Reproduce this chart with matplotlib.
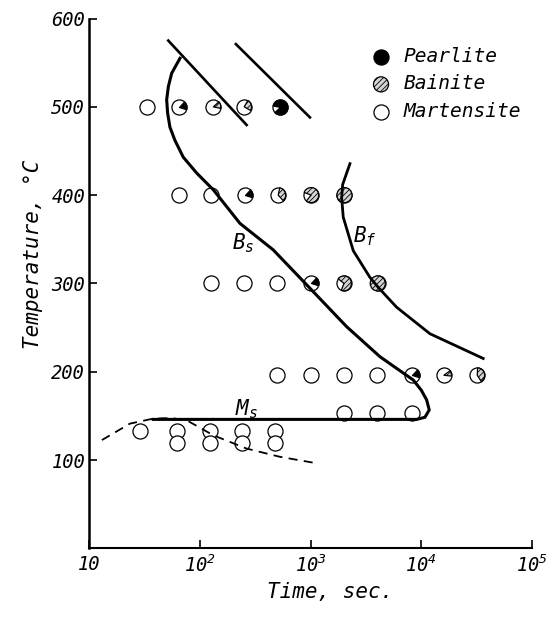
import numpy as np
import matplotlib
matplotlib.use('Agg')
import matplotlib.pyplot as plt
from matplotlib.path import Path
from matplotlib.ticker import FixedLocator, FixedFormatter, NullLocator

FONT = 'DejaVu Sans Mono'
plt.rcParams['font.family'] = [FONT, 'DejaVu Sans']
plt.rcParams['font.style'] = 'italic'
plt.rcParams['mathtext.fontset'] = 'custom'
plt.rcParams['mathtext.rm'] = 'DejaVu Sans Mono:italic'
plt.rcParams['mathtext.it'] = 'DejaVu Sans Mono:italic'
plt.rcParams['mathtext.default'] = 'rm'
plt.rcParams['hatch.linewidth'] = 0.6

# ---------------- data ----------------
x_ticks = [10, 100, 1000, 10000, 100000]
x_tick_labels = ['10', '$10^{2}$', '$10^{3}$', '$10^{4}$', '$10^{5}$']
y_ticks = [100, 200, 300, 400, 500, 600]
y_tick_labels = ['100', '200', '300', '400', '500', '600']

# transformation observations: time (s), temperature, pearlite fraction, bainite fraction
t500 = [33, 64, 132, 251, 528]
pear500 = [0, 0.18, 0, 0, 0.85]
bain500 = [0, 0, 0.15, 0.25, 0]

t400 = [64, 127, 254, 509, 1010, 2020]
pear400 = [0, 0, 0.18, 0, 0, 0]
bain400 = [0, 0, 0, 0.35, 0.8, 1]

t300 = [127, 251, 500, 1010, 2000, 4040]
pear300 = [0, 0, 0, 0.18, 0, 0]
bain300 = [0, 0, 0, 0, 0.7, 1]

t200 = [500, 1000, 2000, 4000, 8160, 16000, 32000]
pear200 = [0, 0, 0, 0, 0.18, 0, 0]
bain200 = [0, 0, 0, 0, 0, 0.12, 0.4]

t150 = [2000, 4000, 8160]
t133 = [29, 62, 123, 240, 475]
t119 = [62, 123, 240, 475]

row_temps = [500, 400, 300, 196, 153, 133, 119]

# Bs curve continuing into Ms line
bs_t = [66, 55.5, 51.8, 50, 51, 53.5, 59.4, 70.6, 93.3, 132, 229.6, 459, 528,
        1056, 2114, 4227, 8450, 10000, 11170, 11790, 10780, 9070, 37.8]
bs_T = [555, 538, 523, 508, 493, 477, 462, 443, 425, 406, 368, 338, 330,
        290.6, 251, 217, 190.6, 179, 168, 156.7, 148.4, 146, 146]

# Bf curve
bf_t = [2265, 1946, 1906, 1970, 2427, 3433, 4080, 5983, 11960, 36240]
bf_T = [435.6, 412, 397, 375, 337, 306.8, 295.5, 273, 243, 215]

# pearlite start/finish lines
p1_t = [51.7, 264]
p1_T = [575, 479.4]
p2_t = [211, 985]
p2_T = [571, 488]

# dashed line
d_t = [13, 23.3, 37.8, 55, 75.9, 132, 263, 528, 1170]
d_T = [122.6, 141.2, 146.9, 147.5, 145, 128, 113, 103.6, 96]

legend_labels = ['Pearlite', 'Bainite', 'Martensite']

# ---------------- figure ----------------
fig = plt.figure(figsize=(5.54, 6.19), dpi=100)
ax = fig.add_axes([0.1612, 0.1142, 0.7991, 0.8559])
ax.set_xscale('log')
ax.set_xlim(10, 1e5)
ax.set_ylim(0, 600)

S = 118
LW = 0.9
HATCH = '//////'
HFACE = '#d4d4d4'


def wedge_marker(frac, center=15.0):
    half = frac * 180.0
    w = Path.wedge(center - half, center + half)
    box = Path([(-1, -1), (1, 1)], [Path.MOVETO, Path.MOVETO])
    return Path.make_compound_path(w, box)


rows = [(t500, pear500, bain500), (t400, pear400, bain400),
        (t300, pear300, bain300), (t200, pear200, bain200),
        (t150, [0] * len(t150), [0] * len(t150)),
        (t133, [0] * len(t133), [0] * len(t133)),
        (t119, [0] * len(t119), [0] * len(t119))]

for (ts, ps, bs), T in zip(rows, row_temps):
    ax.scatter(ts, [T] * len(ts), s=S, marker='o', facecolor='white',
               edgecolor='black', linewidths=LW, zorder=3)
    for t, p, b in zip(ts, ps, bs):
        if p >= 1:
            ax.scatter([t], [T], s=S, marker='o', facecolor='black',
                       edgecolor='black', linewidths=LW, zorder=4)
        elif p > 0:
            ax.scatter([t], [T], s=S, marker=wedge_marker(p), facecolor='black',
                       edgecolor='black', linewidths=LW, zorder=4)
        if b >= 1:
            ax.scatter([t], [T], s=S, marker='o', facecolor=HFACE, hatch=HATCH,
                       edgecolor='black', linewidths=LW, zorder=4)
        elif b > 0:
            ax.scatter([t], [T], s=S, marker=wedge_marker(b), facecolor=HFACE,
                       hatch=HATCH, edgecolor='black', linewidths=LW, zorder=4)

# curves
ax.plot(bs_t, bs_T, color='black', lw=2.2, zorder=5, solid_joinstyle='round')
ax.plot(bf_t, bf_T, color='black', lw=2.0, zorder=5, solid_joinstyle='round')
ax.plot(p1_t, p1_T, color='black', lw=1.9, zorder=5)
ax.plot(p2_t, p2_T, color='black', lw=1.9, zorder=5)
ax.plot(d_t, d_T, color='black', lw=1.3, dashes=(5, 3.5), zorder=5)

ax.text(244, 345, '$B_s$', fontsize=15, ha='center', va='center')
ax.text(264, 158, '$M_s$', fontsize=15, ha='center', va='center')
ax.text(3100, 354, '$B_f$', fontsize=15, ha='center', va='center')

# legend
h1 = ax.scatter([], [], s=S, marker='o', facecolor='black', edgecolor='black', linewidths=LW)
h2 = ax.scatter([], [], s=S, marker='o', facecolor=HFACE, hatch=HATCH,
                edgecolor='black', linewidths=LW)
h3 = ax.scatter([], [], s=S, marker='o', facecolor='white', edgecolor='black', linewidths=LW)
ax.legend([h1, h2, h3], legend_labels, loc='upper left', bbox_to_anchor=(0.637, 0.946),
          frameon=False, fontsize=14, handlelength=1.0, handletextpad=0.65,
          labelspacing=0.43, borderpad=0, borderaxespad=0, scatterpoints=1)

# axes styling
for side in ['top', 'right']:
    ax.spines[side].set_visible(False)
ax.spines['left'].set_linewidth(1.8)
ax.spines['bottom'].set_linewidth(1.5)

ax.xaxis.set_major_locator(FixedLocator(x_ticks))
ax.xaxis.set_major_formatter(FixedFormatter(x_tick_labels))
ax.xaxis.set_minor_locator(NullLocator())
ax.yaxis.set_major_locator(FixedLocator(y_ticks))
ax.yaxis.set_major_formatter(FixedFormatter(y_tick_labels))
ax.tick_params(axis='both', direction='in', length=6, width=1.2, labelsize=13.5)
ax.tick_params(axis='y', pad=3)
ax.tick_params(axis='x', pad=4.5)

ax.set_xlabel('Time, sec.', fontsize=15)
ax.set_ylabel('Temperature, °C', fontsize=15)
ax.xaxis.set_label_coords(0.544, -0.064)
ax.yaxis.set_label_coords(-0.104, 0.555)

fig.savefig('out.png', dpi=100)
